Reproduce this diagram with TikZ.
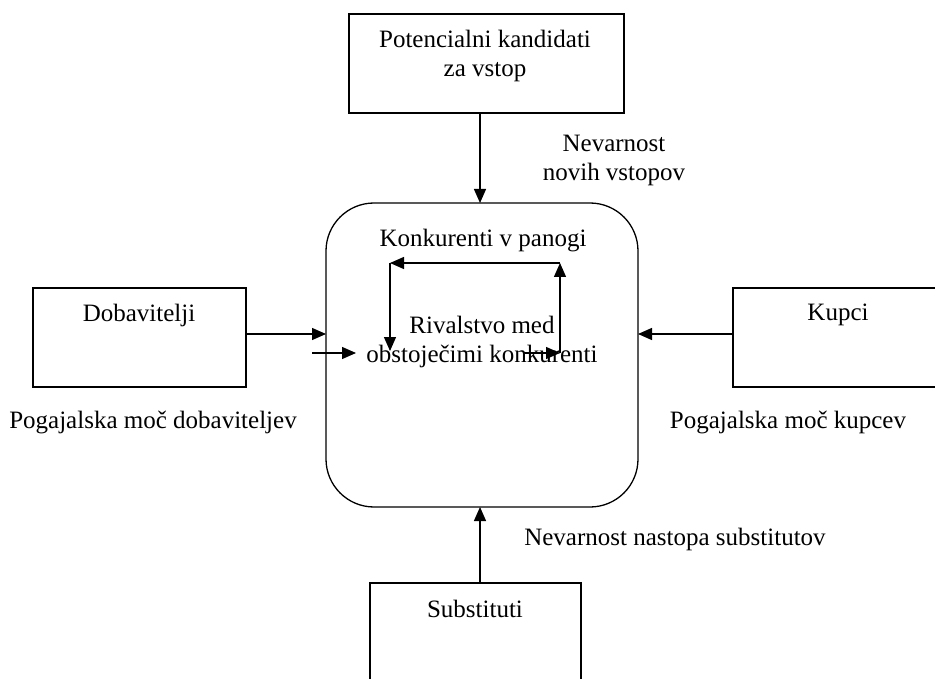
\documentclass[tikz,border=0pt]{standalone}
\usepackage{fontspec}
\setmainfont{Liberation Serif}
\usetikzlibrary{arrows.meta}
\tikzset{
  box/.style={draw, line width=1.3pt, rectangle, inner sep=0pt, outer sep=0pt},
  lbl/.style={font=\fontsize{25}{29}\selectfont, align=center, inner sep=0pt},
  arr/.style={line width=1.3pt, -{Triangle[length=14pt,width=12pt]}},
}
\begin{document}
\begin{tikzpicture}[x=1pt,y=-1pt]
\clip (0,0) rectangle (935,679);
\fill[white] (0,0) rectangle (935,679);
% boxes
\node[box, minimum width=275pt, minimum height=99pt] (tbox) at (486.5,63.5) {};
\node[box, minimum width=213pt, minimum height=99pt] (lbox) at (139.5,337.5) {};
\node[box, minimum width=217pt, minimum height=99pt] (rbox) at (841.5,337.5) {};
\node[box, minimum width=211pt, minimum height=107pt] (bbox) at (475.5,636.5) {};
\node[box, rounded corners=48pt, minimum width=312pt, minimum height=304pt] (main) at (482,355) {};
% texts
\node[lbl] (ttext) at (485,56) {Potencialni kandidati\\za vstop};
\node[lbl] (ltext) at (139,315) {Dobavitelji};
\node[lbl] (rtext) at (838,315) {Kupci};
\node[lbl] (btext) at (475,609) {Substituti};
\node[lbl] (k1) at (483,241) {Konkurenti v panogi};
\node[lbl] (k2) at (482,342) {Rivalstvo med\\obstoječimi konkurenti};
\node[lbl] (nv) at (614,160) {Nevarnost\\novih vstopov};
\node[lbl] (pd) at (153,422) {Pogajalska moč dobaviteljev};
\node[lbl] (pk) at (788,422) {Pogajalska moč kupcev};
\node[lbl] (ns) at (675,539) {Nevarnost nastopa substitutov};
% helper coordinates
\coordinate (ax) at (480,0);
\coordinate (ay) at (0,334);
\coordinate (s1) at (312,353);
\coordinate (s2) at (356,353);
\coordinate (i1) at (523,353);
\coordinate (i2) at (560,353);
\coordinate (i3) at (560,263);
\coordinate (i4) at (390,263);
\coordinate (i5) at (390,351);
% connectors
\draw[arr] (tbox.south -| ax) -- (main.north -| ax);
\draw[arr] (bbox.north -| ax) -- (main.south -| ax);
\draw[arr] (lbox.east |- ay) -- (main.west |- ay);
\draw[arr] (rbox.west |- ay) -- (main.east |- ay);
\draw[arr] (s1) -- (s2);
\draw[arr] (i1) -- (i2);
\draw[arr] (i2) -- (i3);
\draw[arr] (i3) -- (i4);
\draw[arr] (i4) -- (i5);
\end{tikzpicture}
\end{document}
